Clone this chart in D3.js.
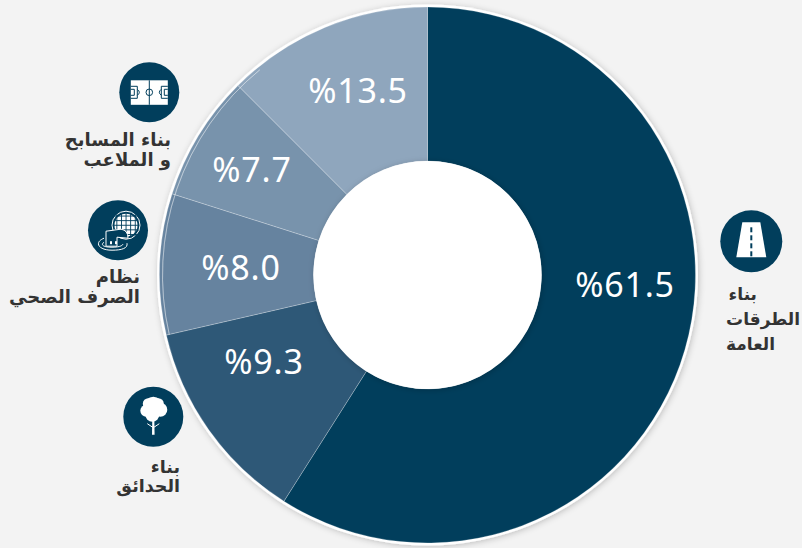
<!DOCTYPE html>
<html>
<head>
<meta charset="utf-8">
<script src="https://cdn.jsdelivr.net/npm/d3@7"></script>
<style>
html, body { margin: 0; padding: 0; background: #f3f3f3; }
svg { display: block; }
</style>
</head>
<body>
<svg id="chart"></svg>
<script>
// printed percentages
var pctLabels = ["%61.5", "%9.3", "%8.0", "%7.7", "%13.5"];
// slice sizes (not the same as the printed numbers)
var sliceShares = [59.0, 12.4, 8.5, 7.6, 12.5];
var sliceColors = ["#013e5c", "#2e5877", "#66839f", "#7893ac", "#8fa6bd"];
var pctPositions = [[625, 285], [264, 362], [241, 268], [252, 170], [358, 91]];

var categoryLines = [
	["بناء", "الطرقات", "العامة"],
	["بناء", "الحدائق"],
	["نظام", "الصرف الصحي"],
	["بناء المسابح", "و الملاعب"]
];
var iconNames = ["road", "tree", "sewer", "field"];
var iconSpots = [[751.3, 241.3], [153.3, 416.7], [118, 230.2], [149.3, 92.3]];
var labelSpots = [
	{x: 757, y: 300, dy: 25, size: 17, anchors: [757, 800, 775]},
	{x: 180, y: 473, dy: 19, size: 17.5},
	{x: 140, y: 283, dy: 20, size: 18},
	{x: 171, y: 146, dy: 20, size: 18}
];

var width = 802, height = 548;
var cx = 427.5, cy = 275, outerR = 268, innerR = 114;
var dark = "#013e5c";

var svg = d3.select("#chart").attr("width", width).attr("height", height);

var defs = svg.append("defs");
var shadow = defs.append("filter").attr("id", "soft")
	.attr("x", "-10%").attr("y", "-10%").attr("width", "120%").attr("height", "120%");
shadow.append("feDropShadow")
	.attr("dx", 1).attr("dy", 1).attr("stdDeviation", 3)
	.attr("flood-color", "#000000").attr("flood-opacity", 0.22);

var g = svg.append("g").attr("transform", "translate(" + cx + "," + cy + ")");

var pie = d3.pie().sort(null)(sliceShares);
var arc = d3.arc().innerRadius(innerR).outerRadius(outerR);

// white rim goes under the slices, with the soft shadow
g.append("circle").attr("r", outerR + 2.5).attr("fill", "#ffffff").attr("filter", "url(#soft)");

g.selectAll("path.slice")
	.data(pie)
	.enter()
	.append("path")
	.attr("class", "slice")
	.attr("d", arc)
	.attr("fill", function(d, i) { return sliceColors[i]; })
	.attr("stroke", "#ffffff")
	.attr("stroke-opacity", 0.3)
	.attr("stroke-width", 0.8);

// faint line just inside the rim on the pale slices
var rimArc = d3.arc().innerRadius(outerR - 3).outerRadius(outerR - 3);
g.append("path")
	.attr("d", rimArc({startAngle: pie[2].startAngle, endAngle: pie[4].startAngle + 0.1}))
	.attr("fill", "none")
	.attr("stroke", "#ffffff")
	.attr("stroke-opacity", 0.3)
	.attr("stroke-width", 1);

g.append("circle").attr("r", innerR).attr("fill", "#ffffff").attr("filter", "url(#soft)");

svg.selectAll("text.pct")
	.data(pctLabels)
	.enter()
	.append("text")
	.attr("class", "pct")
	.attr("x", function(d, i) { return pctPositions[i][0]; })
	.attr("y", function(d, i) { return pctPositions[i][1]; })
	.attr("direction", "ltr")
	.attr("text-anchor", "middle")
	.attr("dy", "0.36em")
	.attr("fill", "#ffffff")
	.attr("font-family", "'Noto Sans', sans-serif")
	.attr("font-weight", 400)
	.attr("font-size", 34)
	.attr("letter-spacing", 0.8)
	.text(function(d) { return d; });

// category labels
categoryLines.forEach(function(lines, i) {
	var spot = labelSpots[i];
	lines.forEach(function(line, j) {
		svg.append("text")
			.attr("class", "cat")
			.attr("x", spot.anchors ? spot.anchors[j] : spot.x)
			.attr("y", spot.y + j * spot.dy)
			.attr("direction", "rtl")
			.attr("text-anchor", "start")
			.attr("fill", "#333333")
			.attr("font-family", "'DejaVu Sans', sans-serif")
			.attr("font-weight", "bold")
			.attr("font-size", spot.size)
			.text(line);
	});
});

// icons
var iconDraw = {
	road: function(s) {
		s.append("path").attr("d", "M-9,-19L9,-19L15,16L-15,16Z").attr("fill", "#ffffff");
		d3.range(4).forEach(function(k) {
			s.append("rect").attr("x", -1).attr("y", -14 + k * 8).attr("width", 2).attr("height", 5).attr("fill", dark);
		});
	},
	tree: function(s) {
		[[0, -11, 9], [-7, -6, 6], [7, -7, 7], [-1, -2, 7], [-5, -13, 5.5], [5, -13, 5.5]].forEach(function(b) {
			s.append("circle").attr("cx", b[0]).attr("cy", b[1]).attr("r", b[2]).attr("fill", "#ffffff");
		});
		s.append("path").attr("d", "M-1,2L1,2L1.3,18L-1.3,18Z").attr("fill", "#ffffff");
		s.append("path").attr("d", "M0,11L-6,7M0,11L6,7").attr("stroke", "#ffffff").attr("stroke-width", 1).attr("fill", "none");
	},
	sewer: function(s) {
		var grid = s.append("g").attr("transform", "translate(8,-5)");
		grid.append("circle").attr("r", 14).attr("fill", "none").attr("stroke", "#ffffff").attr("stroke-width", 1);
		grid.append("circle").attr("r", 11.5).attr("fill", "#ffffff");
		d3.range(-2, 3).forEach(function(k) {
			grid.append("rect").attr("x", k * 4.6 - 0.4).attr("y", -12).attr("width", 0.9).attr("height", 24).attr("fill", dark);
			grid.append("rect").attr("x", -12).attr("y", k * 4.6 - 0.4).attr("width", 24).attr("height", 0.9).attr("fill", dark);
		});
		s.append("path").attr("d", "M-12,16L-12,1L3,-1Q10,0 10,8L-1,7L-1,16Z").attr("fill", dark)
			.attr("stroke", "#ffffff").attr("stroke-width", 1);
		s.append("rect").attr("x", -8).attr("y", 11).attr("width", 2).attr("height", 3).attr("fill", "#ffffff");
		s.append("rect").attr("x", -3).attr("y", 11).attr("width", 2).attr("height", 3).attr("fill", "#ffffff");
		s.append("path").attr("d", "M-14,8C-24,12 -20,20 -6,20C4,20 10,18 9,13").attr("fill", "none").attr("stroke", "#ffffff").attr("stroke-width", 1);
		s.append("path").attr("d", "M-14,12C-18,15 -14,17 -6,17C0,17 4,16 5,14").attr("fill", "none").attr("stroke", "#ffffff").attr("stroke-width", 1);
	},
	field: function(s) {
		s.append("rect").attr("x", -18.5).attr("y", -12).attr("width", 37).attr("height", 24.5).attr("fill", "#ffffff");
		var lines = s.append("g").attr("fill", "none").attr("stroke", dark).attr("stroke-width", 1);
		lines.append("path").attr("d", "M0,-12L0,12.5");
		lines.append("circle").attr("r", 3.3);
		[-1, 1].forEach(function(side) {
			lines.append("path").attr("d", d3.line()([[side * 18.5, -6], [side * 12, -6], [side * 12, 6], [side * 18.5, 6]]));
			lines.append("path").attr("d", d3.line()([[side * 18.5, -3], [side * 15, -3], [side * 15, 3], [side * 18.5, 3]]));
			lines.append("path").attr("d", "M" + side * 12 + ",-3Q" + side * 8 + ",0 " + side * 12 + ",3");
		});
	}
};

iconNames.forEach(function(name, i) {
	var s = svg.append("g")
		.attr("class", "icon")
		.attr("transform", "translate(" + iconSpots[i][0] + "," + iconSpots[i][1] + ")");
	s.append("circle").attr("r", name == "road" ? 31 : 30).attr("fill", dark);
	iconDraw[name](s);
});
</script>
</body>
</html>
